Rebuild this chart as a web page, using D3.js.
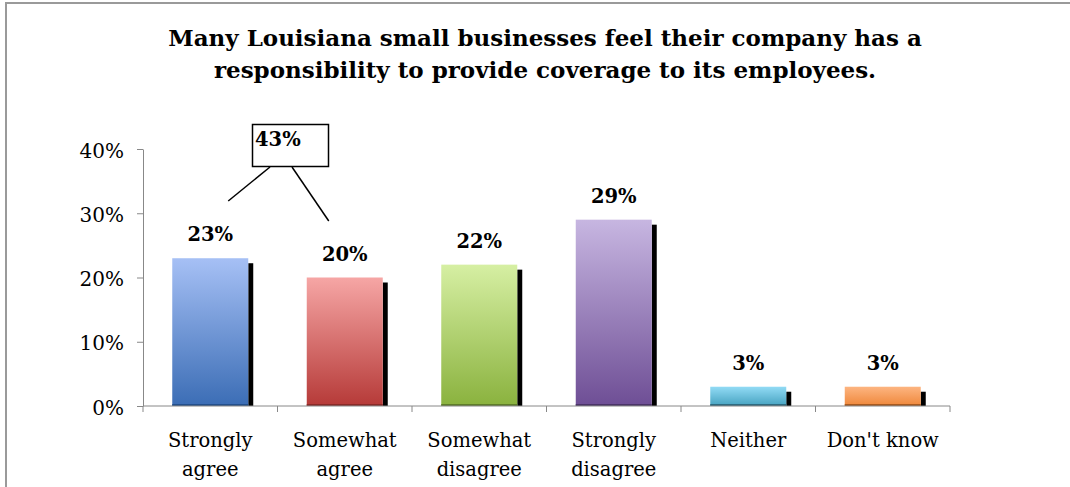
<!DOCTYPE html>
<html><head><meta charset="utf-8">
<script src="https://cdn.jsdelivr.net/npm/d3@7"></script>
<style>body{margin:0;background:#fff}svg{display:block}</style>
</head><body>
<svg id="c" width="1070" height="487"></svg>
<script>
const categories = [["Strongly","agree"],["Somewhat","agree"],["Somewhat","disagree"],["Strongly","disagree"],["Neither"],["Don't know"]];
const values = [23, 20, 22, 29, 3, 3];
const valueLabels = ["23%","20%","22%","29%","3%","3%"];
const yTicks = [0, 10, 20, 30, 40];
const callout = {label: "43%", from: [0, 1]};
const titleLines = ["Many Louisiana small businesses feel their company has a","responsibility to provide coverage to its employees."];
const colors = [["#a6c0f5","#3b6db5"],["#f6a6a5","#b63a38"],["#d6efa3","#8ab23e"],["#c7b6e1","#6e4e95"],["#92dbf5","#45a2c0"],["#fdb581","#ef873a"]];
const edge = ["#24508c","#8a2a28","#5f7d2a","#4b3468","#2f6b80","#a85a20"];

const svg = d3.select("#c");
const serif = "'DejaVu Serif', serif";
// frame
svg.append("path").attr("d","M6,487 V3 H1070").attr("fill","none").attr("stroke","#9a9a9a").attr("stroke-width",2);

svg.append("g").selectAll("text").data(titleLines).join("text")
  .attr("x",545).attr("y",(d,i)=>46+i*32).attr("text-anchor","middle")
  .attr("font-family",serif).attr("font-weight","bold").attr("font-size",23).attr("fill","#000").text(d=>d);

const x = d3.scaleBand().domain(d3.range(categories.length)).range([143,950]).paddingInner(0.435).paddingOuter(0.2175);
const y = d3.scaleLinear().domain([0,40]).range([406,149]);

const defs = svg.append("defs");
colors.forEach((c,i)=>{
  const g = defs.append("linearGradient").attr("id","g"+i).attr("x1",0).attr("y1",0).attr("x2",0).attr("y2",1);
  g.append("stop").attr("offset","0%").attr("stop-color",c[0]);
  g.append("stop").attr("offset","100%").attr("stop-color",c[1]);
});

// shadows
svg.append("g").selectAll("rect").data(values).join("rect")
  .attr("x",(d,i)=>x(i)+x.bandwidth()).attr("width",5)
  .attr("y",d=>y(d)+5).attr("height",d=>y(0)-y(d)-5).attr("fill","#000");
// bars
svg.append("g").selectAll("rect").data(values).join("rect")
  .attr("x",(d,i)=>x(i)).attr("width",x.bandwidth())
  .attr("y",d=>y(d)).attr("height",d=>y(0)-y(d)).attr("fill",(d,i)=>`url(#g${i})`);
svg.append("g").selectAll("rect").data(values).join("rect")
  .attr("x",(d,i)=>x(i)).attr("width",x.bandwidth())
  .attr("y",y(0)-2).attr("height",2).attr("fill",(d,i)=>edge[i]);

// y axis
const ya = svg.append("g").attr("transform","translate(143,0)")
  .call(d3.axisLeft(y).tickValues(yTicks).tickSize(6).tickSizeOuter(0).tickFormat(d=>d+"%"));
ya.select(".domain").attr("stroke","#888");
ya.selectAll(".tick line").attr("stroke","#888");
ya.selectAll("text").attr("font-family",serif).attr("font-size",20).attr("fill","#000").attr("x",-19).attr("dy","0.4em");

// x axis
const xa = svg.append("g").attr("transform","translate(0,406)");
xa.append("line").attr("x1",143).attr("x2",950).attr("stroke","#888");
const step = (950-143)/categories.length;
xa.selectAll(".xt").data(d3.range(categories.length+1)).join("line").attr("class","xt")
  .attr("x1",i=>143+i*step).attr("x2",i=>143+i*step).attr("y1",0).attr("y2",6).attr("stroke","#888");
xa.selectAll(".xl").data(categories).join("text").attr("class","xl")
  .attr("x",(d,i)=>x(i)+x.bandwidth()/2).attr("y",41).attr("text-anchor","middle")
  .attr("font-family",serif).attr("font-size",19.5).attr("fill","#000")
  .each(function(d){
    const t=d3.select(this);
    d.forEach((s,j)=>t.append("tspan").attr("x",t.attr("x")).attr("dy",j?29:0).text(s));
  });

// value labels
svg.append("g").selectAll("text").data(values).join("text")
  .attr("x",(d,i)=>x(i)+x.bandwidth()/2).attr("y",d=>y(d)-17).attr("text-anchor","middle")
  .attr("font-family",serif).attr("font-weight","bold").attr("font-size",19.5).attr("fill","#000")
  .text((d,i)=>valueLabels[i]);

// callout
const cx0 = x(callout.from[0])+x.bandwidth()/2, cx1 = x(callout.from[1])+x.bandwidth()/2;
svg.append("rect").attr("x",252.5).attr("y",124.5).attr("width",76).attr("height",42)
  .attr("fill","#fff").attr("stroke","#000").attr("stroke-width",1.5);
svg.append("text").attr("x",255).attr("y",146).attr("font-family",serif).attr("font-weight","bold")
  .attr("font-size",19.5).text(callout.label);
svg.append("line").attr("x1",270).attr("y1",167).attr("x2",cx0+18).attr("y2",201).attr("stroke","#000").attr("stroke-width",1.5);
svg.append("line").attr("x1",292).attr("y1",167).attr("x2",cx1-16).attr("y2",221).attr("stroke","#000").attr("stroke-width",1.5);
</script>
</body></html>
